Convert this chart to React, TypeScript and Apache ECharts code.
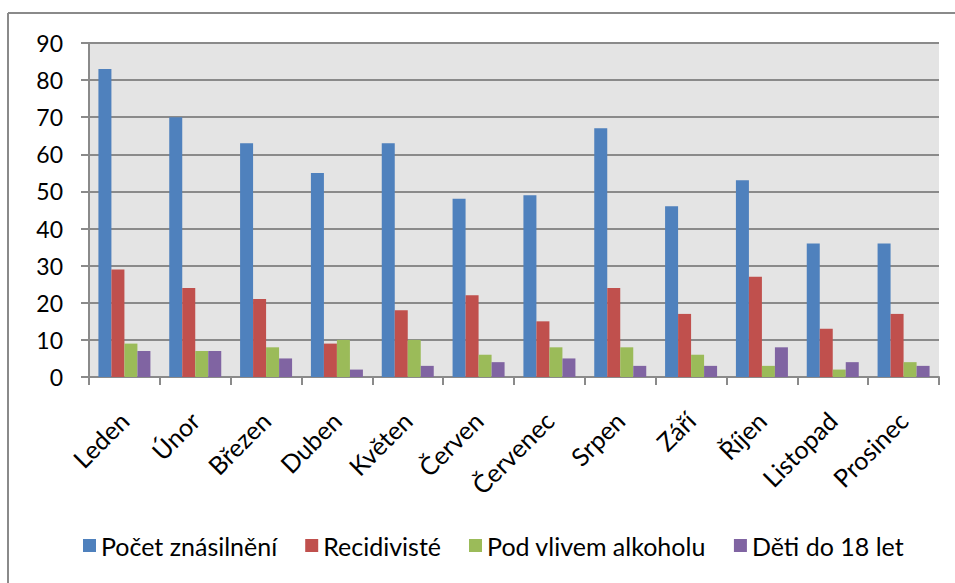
import React, { useEffect, useRef } from "react";
import * as echarts from "echarts";

const months = ["Leden", "Únor", "Březen", "Duben", "Květen", "Červen", "Červenec", "Srpen", "Září", "Říjen", "Listopad", "Prosinec"];
const seriesNames = ["Počet znásilnění", "Recidivisté", "Pod vlivem alkoholu", "Děti do 18 let"];
const pocet = [83, 70, 63, 55, 63, 48, 49, 67, 46, 53, 36, 36];
const recidiviste = [29, 24, 21, 9, 18, 22, 15, 24, 17, 27, 13, 17];
const alkohol = [9, 7, 8, 10, 10, 6, 8, 8, 6, 3, 2, 4];
const deti = [7, 7, 5, 2, 3, 4, 5, 3, 3, 8, 4, 3];
const colors = ["#4F81BD", "#C0504D", "#9BBB59", "#8064A2"];

export default function App() {
  const ref = useRef<HTMLDivElement>(null);
  useEffect(() => {
    const chart = echarts.init(ref.current!, null, { renderer: "svg" });
    const font = "Lato, 'Noto Sans', sans-serif";
    const data = [pocet, recidiviste, alkohol, deti];
    chart.setOption({
      animation: false,
      color: colors,
      graphic: [
        { type: "line", shape: { x1: 8, y1: 13, x2: 955, y2: 13 }, style: { stroke: "#8a8a8a", lineWidth: 2 } },
        { type: "line", shape: { x1: 8, y1: 13, x2: 8, y2: 583 }, style: { stroke: "#8a8a8a", lineWidth: 2 } },
      ],
      grid: { left: 89, right: 16, top: 43, bottom: 206, show: true, backgroundColor: "#e4e4e4", borderWidth: 0 },
      legend: {
        bottom: 20,
        left: 78,
        itemWidth: 13,
        itemHeight: 13,
        itemGap: 28,
        icon: "rect",
        textStyle: { fontFamily: font, fontSize: 25, color: "#000" },
        data: seriesNames,
      },
      xAxis: {
        type: "category",
        data: months,
        axisLine: { lineStyle: { color: "#8a8a8a", width: 2 } },
        axisTick: { show: true, length: 8, lineStyle: { color: "#8a8a8a", width: 2 } },
        axisLabel: { rotate: 45, margin: 21, padding: [0, 13, 0, 0], verticalAlign: "top", align: "right", fontFamily: font, fontSize: 25, color: "#000", interval: 0 },
      },
      yAxis: {
        type: "value",
        min: 0,
        max: 90,
        interval: 10,
        axisLine: { show: true, lineStyle: { color: "#8a8a8a", width: 2 } },
        axisTick: { show: true, length: 8, lineStyle: { color: "#8a8a8a", width: 2 } },
        axisLabel: { margin: 26, fontFamily: font, fontSize: 23, color: "#000" },
        splitLine: { lineStyle: { color: "#8a8a8a", width: 2 } },
      },
      series: seriesNames.map((name, i) => ({
        name,
        type: "bar",
        data: data[i],
        barWidth: 13,
        barGap: "0%",
        itemStyle: { color: colors[i] },
      })),
    });
    return () => chart.dispose();
  }, []);
  return <div ref={ref} style={{ width: 955, height: 583, position: "absolute", left: 0, top: 0, background: "#fff" }} />;
}
